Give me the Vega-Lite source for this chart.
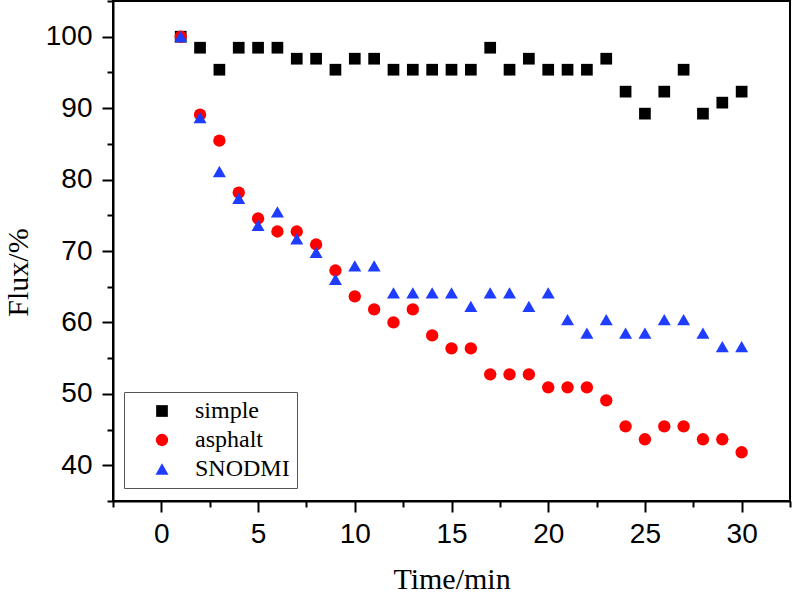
{
  "$schema": "https://vega.github.io/schema/vega-lite/v6.json",
  "width": 677,
  "height": 500,
  "autosize": "none",
  "padding": {"left": 113, "top": 1, "right": 2, "bottom": 94},
  "background": "white",
  "config": {
    "view": {"stroke": "black", "strokeWidth": 2},
    "axis": {"grid": false}
  },
  "data": {
    "values": [
      {"t": 1, "flux": 100, "series": "simple"},
      {"t": 2, "flux": 98.46, "series": "simple"},
      {"t": 3, "flux": 95.38, "series": "simple"},
      {"t": 4, "flux": 98.46, "series": "simple"},
      {"t": 5, "flux": 98.46, "series": "simple"},
      {"t": 6, "flux": 98.46, "series": "simple"},
      {"t": 7, "flux": 96.92, "series": "simple"},
      {"t": 8, "flux": 96.92, "series": "simple"},
      {"t": 9, "flux": 95.38, "series": "simple"},
      {"t": 10, "flux": 96.92, "series": "simple"},
      {"t": 11, "flux": 96.92, "series": "simple"},
      {"t": 12, "flux": 95.38, "series": "simple"},
      {"t": 13, "flux": 95.38, "series": "simple"},
      {"t": 14, "flux": 95.38, "series": "simple"},
      {"t": 15, "flux": 95.38, "series": "simple"},
      {"t": 16, "flux": 95.38, "series": "simple"},
      {"t": 17, "flux": 98.46, "series": "simple"},
      {"t": 18, "flux": 95.38, "series": "simple"},
      {"t": 19, "flux": 96.92, "series": "simple"},
      {"t": 20, "flux": 95.38, "series": "simple"},
      {"t": 21, "flux": 95.38, "series": "simple"},
      {"t": 22, "flux": 95.38, "series": "simple"},
      {"t": 23, "flux": 96.92, "series": "simple"},
      {"t": 24, "flux": 92.31, "series": "simple"},
      {"t": 25, "flux": 89.23, "series": "simple"},
      {"t": 26, "flux": 92.31, "series": "simple"},
      {"t": 27, "flux": 95.38, "series": "simple"},
      {"t": 28, "flux": 89.23, "series": "simple"},
      {"t": 29, "flux": 90.77, "series": "simple"},
      {"t": 30, "flux": 92.31, "series": "simple"},
      {"t": 1, "flux": 100, "series": "asphalt"},
      {"t": 2, "flux": 89.09, "series": "asphalt"},
      {"t": 3, "flux": 85.45, "series": "asphalt"},
      {"t": 4, "flux": 78.18, "series": "asphalt"},
      {"t": 5, "flux": 74.55, "series": "asphalt"},
      {"t": 6, "flux": 72.73, "series": "asphalt"},
      {"t": 7, "flux": 72.73, "series": "asphalt"},
      {"t": 8, "flux": 70.91, "series": "asphalt"},
      {"t": 9, "flux": 67.27, "series": "asphalt"},
      {"t": 10, "flux": 63.64, "series": "asphalt"},
      {"t": 11, "flux": 61.82, "series": "asphalt"},
      {"t": 12, "flux": 60.0, "series": "asphalt"},
      {"t": 13, "flux": 61.82, "series": "asphalt"},
      {"t": 14, "flux": 58.18, "series": "asphalt"},
      {"t": 15, "flux": 56.36, "series": "asphalt"},
      {"t": 16, "flux": 56.36, "series": "asphalt"},
      {"t": 17, "flux": 52.73, "series": "asphalt"},
      {"t": 18, "flux": 52.73, "series": "asphalt"},
      {"t": 19, "flux": 52.73, "series": "asphalt"},
      {"t": 20, "flux": 50.91, "series": "asphalt"},
      {"t": 21, "flux": 50.91, "series": "asphalt"},
      {"t": 22, "flux": 50.91, "series": "asphalt"},
      {"t": 23, "flux": 49.09, "series": "asphalt"},
      {"t": 24, "flux": 45.45, "series": "asphalt"},
      {"t": 25, "flux": 43.64, "series": "asphalt"},
      {"t": 26, "flux": 45.45, "series": "asphalt"},
      {"t": 27, "flux": 45.45, "series": "asphalt"},
      {"t": 28, "flux": 43.64, "series": "asphalt"},
      {"t": 29, "flux": 43.64, "series": "asphalt"},
      {"t": 30, "flux": 41.82, "series": "asphalt"},
      {"t": 1, "flux": 100, "series": "SNODMI"},
      {"t": 2, "flux": 88.68, "series": "SNODMI"},
      {"t": 3, "flux": 81.13, "series": "SNODMI"},
      {"t": 4, "flux": 77.36, "series": "SNODMI"},
      {"t": 5, "flux": 73.58, "series": "SNODMI"},
      {"t": 6, "flux": 75.47, "series": "SNODMI"},
      {"t": 7, "flux": 71.70, "series": "SNODMI"},
      {"t": 8, "flux": 69.81, "series": "SNODMI"},
      {"t": 9, "flux": 66.04, "series": "SNODMI"},
      {"t": 10, "flux": 67.92, "series": "SNODMI"},
      {"t": 11, "flux": 67.92, "series": "SNODMI"},
      {"t": 12, "flux": 64.15, "series": "SNODMI"},
      {"t": 13, "flux": 64.15, "series": "SNODMI"},
      {"t": 14, "flux": 64.15, "series": "SNODMI"},
      {"t": 15, "flux": 64.15, "series": "SNODMI"},
      {"t": 16, "flux": 62.26, "series": "SNODMI"},
      {"t": 17, "flux": 64.15, "series": "SNODMI"},
      {"t": 18, "flux": 64.15, "series": "SNODMI"},
      {"t": 19, "flux": 62.26, "series": "SNODMI"},
      {"t": 20, "flux": 64.15, "series": "SNODMI"},
      {"t": 21, "flux": 60.38, "series": "SNODMI"},
      {"t": 22, "flux": 58.49, "series": "SNODMI"},
      {"t": 23, "flux": 60.38, "series": "SNODMI"},
      {"t": 24, "flux": 58.49, "series": "SNODMI"},
      {"t": 25, "flux": 58.49, "series": "SNODMI"},
      {"t": 26, "flux": 60.38, "series": "SNODMI"},
      {"t": 27, "flux": 60.38, "series": "SNODMI"},
      {"t": 28, "flux": 58.49, "series": "SNODMI"},
      {"t": 29, "flux": 56.60, "series": "SNODMI"},
      {"t": 30, "flux": 56.60, "series": "SNODMI"}
    ]
  },
  "mark": {"type": "point", "filled": true, "opacity": 1},
  "encoding": {
    "x": {
      "field": "t",
      "type": "quantitative",
      "scale": {"domain": [-2.5, 32.5], "nice": false, "zero": false},
      "axis": {
        "title": "Time/min",
        "values": [-2.5, 0, 2.5, 5, 7.5, 10, 12.5, 15, 17.5, 20, 22.5, 25, 27.5, 30, 32.5],
        "labelExpr": "datum.value % 5 === 0 ? datum.label : ''",
        "tickSize": {"expr": "datum.value % 5 === 0 ? 11 : 6"},
        "tickColor": "black",
        "tickWidth": 2,
        "domainColor": "black",
        "domainWidth": 2,
        "labelFont": "Liberation Sans",
        "labelFontSize": 28,
        "labelColor": "black",
        "labelPadding": 8,
        "labelFlush": false,
        "labelOverlap": false,
        "titleFont": "Liberation Serif",
        "titleFontSize": 30,
        "titleFontWeight": "normal",
        "titleColor": "black",
        "titlePadding": 16
      }
    },
    "y": {
      "field": "flux",
      "type": "quantitative",
      "scale": {"domain": [35, 105], "nice": false, "zero": false},
      "axis": {
        "title": "Flux/%",
        "values": [35, 40, 45, 50, 55, 60, 65, 70, 75, 80, 85, 90, 95, 100, 105],
        "labelExpr": "datum.value % 10 === 0 ? datum.label : ''",
        "tickSize": {"expr": "datum.value % 10 === 0 ? 11 : 6"},
        "tickColor": "black",
        "tickWidth": 2,
        "domainColor": "black",
        "domainWidth": 2,
        "labelFont": "Liberation Sans",
        "labelFontSize": 28,
        "labelColor": "black",
        "labelPadding": 10,
        "labelFlush": false,
        "labelOverlap": false,
        "titleFont": "Liberation Serif",
        "titleFontSize": 30,
        "titleFontWeight": "normal",
        "titleColor": "black",
        "titleY": 271,
        "titlePadding": 12
      }
    },
    "shape": {
      "field": "series",
      "type": "nominal",
      "scale": {"domain": ["simple", "asphalt", "SNODMI"], "range": ["square", "circle", "triangle-up"]},
      "legend": null
    },
    "size": {
      "field": "series",
      "type": "nominal",
      "scale": {"domain": ["simple", "asphalt", "SNODMI"], "range": [137, 169, 200]},
      "legend": null
    },
    "color": {
      "field": "series",
      "type": "nominal",
      "scale": {"domain": ["simple", "asphalt", "SNODMI"], "range": ["#000000", "#ff0000", "#1f3dff"]},
      "legend": {
        "title": null,
        "orient": "none",
        "legendX": 11,
        "legendY": 391,
        "symbolSize": 130,
        "labelFont": "Liberation Serif",
        "labelFontSize": 24,
        "labelColor": "black",
        "strokeColor": "#555555",
        "fillColor": "white",
        "padding": 7,
        "rowPadding": 5,
        "symbolOffset": 19,
        "labelOffset": 21
      }
    }
  }
}
